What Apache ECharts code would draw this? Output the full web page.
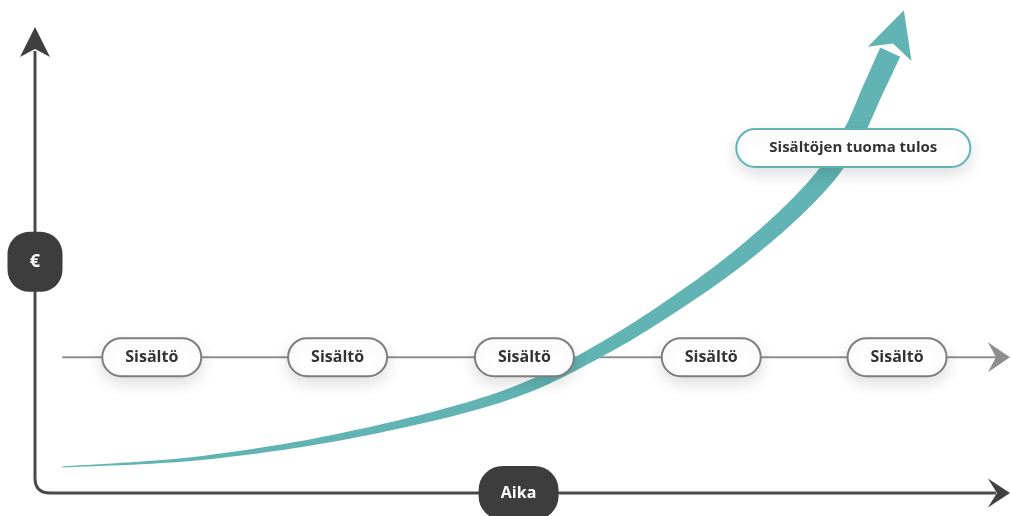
<!DOCTYPE html>
<html>
<head>
<meta charset="utf-8">
<title>Sisältöjen tuoma tulos</title>
<script src="https://cdn.jsdelivr.net/npm/echarts@6/dist/echarts.min.js"></script>
<style>
  html, body { margin: 0; padding: 0; background: #fff; }
  #chart { width: 1010px; height: 516px; }
</style>
</head>
<body>
<div id="chart"></div>
<script>
// Aika-akseli 0..100, €-akseli 0..106
var contentLabel = 'Sisältö';
var contentTimes = [12, 31.1, 50.3, 69.5, 88.6];
var contentLevel = 29.2;
var flowStart = 2.8;

var resultX = [2.8, 17.0, 32.4, 47.8, 58.1, 68.3, 75.5, 80.9, 84.0, 86.1, 87.9];
var resultY = [5.6, 7.5, 12.5, 20.6, 30.7, 44.3, 56.1, 67.3, 77.0, 86.6, 94.8];
var resultTip = [89.3, 103.8];
var resultLabel = 'Sisältöjen tuoma tulos';
var resultLabelPos = [84.1, 74.2];

var yAxisName = '€';
var yAxisNamePos = [0, 49.7];
var xAxisName = 'Aika';
var xAxisNamePos = [49.7, 0];
var axisEnd = [100.2, 100.2];

var TEAL = '#62b4b4';
var DARK = '#3d3d3d';
var FONT = '"Open Sans", "DejaVu Sans", sans-serif';

var chart = echarts.init(document.getElementById('chart'));

// nuolenkärki: kärki, suunta, pituus, puolileveys, loven syvyys
function arrowHead(tip, from, len, half, notch) {
  var dx = tip[0] - from[0];
  var dy = tip[1] - from[1];
  var d = Math.sqrt(dx * dx + dy * dy);
  var ux = dx / d, uy = dy / d, nx = -uy, ny = ux;
  var bx = tip[0] - ux * len, by = tip[1] - uy * len;
  return [
    tip,
    [bx + nx * half, by + ny * half],
    [tip[0] - ux * notch, tip[1] - uy * notch],
    [bx - nx * half, by - ny * half]
  ];
}

// Catmull-Rom -käyrä pisteiden läpi
function spline(pts, steps) {
  var out = [];
  for (var i = 0; i < pts.length - 1; i++) {
    var p0 = pts[Math.max(i - 1, 0)];
    var p1 = pts[i];
    var p2 = pts[i + 1];
    var p3 = pts[Math.min(i + 2, pts.length - 1)];
    for (var s = 0; s < steps; s++) {
      var t = s / steps, t2 = t * t, t3 = t2 * t;
      out.push([0, 1].map(function (k) {
        return 0.5 * ((2 * p1[k]) + (-p0[k] + p2[k]) * t +
          (2 * p0[k] - 5 * p1[k] + 4 * p2[k] - p3[k]) * t2 +
          (-p0[k] + 3 * p1[k] - 3 * p2[k] + p3[k]) * t3);
      }));
    }
  }
  out.push(pts[pts.length - 1]);
  return out;
}

function renderAxes(params, api) {
  var o = api.coord([0, 0]);
  var top = api.coord([0, axisEnd[1]]);
  var right = api.coord([axisEnd[0], 0]);
  var r = 15;
  var path = 'M' + o[0] + ' ' + (top[1] + 24) +
    ' L' + o[0] + ' ' + (o[1] - r) +
    ' Q' + o[0] + ' ' + o[1] + ' ' + (o[0] + r) + ' ' + o[1] +
    ' L' + (right[0] - 14) + ' ' + o[1];
  return {
    type: 'group',
    children: [
      { type: 'path', shape: { pathData: path }, style: { fill: null, stroke: '#4a4a4a', lineWidth: 3 } },
      { type: 'polygon', shape: { points: arrowHead(top, [top[0], top[1] + 10], 30, 15, 22) }, style: { fill: '#404040' } },
      { type: 'polygon', shape: { points: arrowHead(right, [right[0] - 10, right[1]], 22, 14.5, 13) }, style: { fill: '#404040' } }
    ]
  };
}

function renderFlow(params, api) {
  var a = api.coord([flowStart, contentLevel]);
  var b = api.coord([axisEnd[0], contentLevel]);
  return {
    type: 'group',
    children: [
      { type: 'line', shape: { x1: a[0], y1: a[1], x2: b[0] - 12, y2: b[1] }, style: { stroke: '#8e8e8e', lineWidth: 2 } },
      { type: 'polygon', shape: { points: arrowHead(b, [b[0] - 10, b[1]], 22, 15, 14) }, style: { fill: '#8e8e8e' } }
    ]
  };
}

function renderGrowth(params, api) {
  var pts = resultX.map(function (x, i) { return api.coord([x, resultY[i]]); });
  var tip = api.coord(resultTip);
  var line = spline(pts, 16);
  var len = [0];
  for (var i = 1; i < line.length; i++) {
    var ddx = line[i][0] - line[i - 1][0], ddy = line[i][1] - line[i - 1][1];
    len.push(len[i - 1] + Math.sqrt(ddx * ddx + ddy * ddy));
  }
  var total = len[len.length - 1];
  var left = [], right = [];
  for (var j = 0; j < line.length; j++) {
    var pa = line[Math.max(j - 1, 0)], pb = line[Math.min(j + 1, line.length - 1)];
    var tx = pb[0] - pa[0], ty = pb[1] - pa[1];
    var tl = Math.sqrt(tx * tx + ty * ty) || 1;
    var nx = -ty / tl, ny = tx / tl;
    var hw = 0.5 + 10.5 * len[j] / total;
    left.push([line[j][0] + nx * hw, line[j][1] + ny * hw]);
    right.unshift([line[j][0] - nx * hw, line[j][1] - ny * hw]);
  }
  return {
    type: 'group',
    children: [
      { type: 'polygon', shape: { points: left.concat(right) }, style: { fill: TEAL } },
      { type: 'polygon', shape: { points: arrowHead(tip, pts[pts.length - 1], 46, 23, 35) }, style: { fill: TEAL } }
    ]
  };
}

function pill(c, w, h, r, fill, stroke, text, color, font, shadow) {
  var style = { fill: fill, stroke: stroke, lineWidth: stroke ? 2 : 0 };
  if (shadow) {
    style.shadowBlur = 16;
    style.shadowColor = 'rgba(0,0,0,0.13)';
    style.shadowOffsetY = 6;
  }
  return {
    type: 'group',
    children: [
      { type: 'rect', shape: { x: c[0] - w / 2, y: c[1] - h / 2, width: w, height: h, r: r }, style: style },
      {
        type: 'text',
        style: { x: c[0], y: c[1], text: text, align: 'center', verticalAlign: 'middle', fill: color, font: font }
      }
    ]
  };
}

function renderContent(params, api) {
  var c = api.coord([api.value(0), api.value(1)]);
  return pill(c, 99, 38, 19, '#fff', '#7d7d7d', contentLabel, '#333', 'bold 16px ' + FONT, true);
}

function renderResult(params, api) {
  var c = api.coord(resultLabelPos);
  return pill(c, 234, 38, 19, '#fff', TEAL, resultLabel, '#333', 'bold 15px ' + FONT, true);
}

function renderBadges(params, api) {
  var e = api.coord(yAxisNamePos);
  var t = api.coord(xAxisNamePos);
  return {
    type: 'group',
    children: [
      pill(e, 55, 60, 22, DARK, null, yAxisName, '#fff', 'bold 18px ' + FONT, false),
      pill(t, 80, 54, 24, DARK, null, xAxisName, '#fff', 'bold 16px ' + FONT, false)
    ]
  };
}

var option = {
  backgroundColor: '#fff',
  animation: false,
  grid: { left: 35, right: 2, top: 0, bottom: 23 },
  xAxis: { type: 'value', min: 0, max: 100, show: false },
  yAxis: { type: 'value', min: 0, max: 106, show: false },
  series: [
    { type: 'custom', clip: false, z: 1, renderItem: renderAxes, data: [[0, 0]] },
    { type: 'custom', clip: false, z: 2, renderItem: renderFlow, data: [[0, 0]] },
    { type: 'custom', clip: false, z: 3, renderItem: renderGrowth, data: [[0, 0]] },
    {
      type: 'custom', clip: false, z: 4, renderItem: renderContent,
      data: contentTimes.map(function (t) { return [t, contentLevel]; })
    },
    { type: 'custom', clip: false, z: 5, renderItem: renderResult, data: [[0, 0]] },
    { type: 'custom', clip: false, z: 6, renderItem: renderBadges, data: [[0, 0]] }
  ]
};

chart.setOption(option);
</script>
</body>
</html>
